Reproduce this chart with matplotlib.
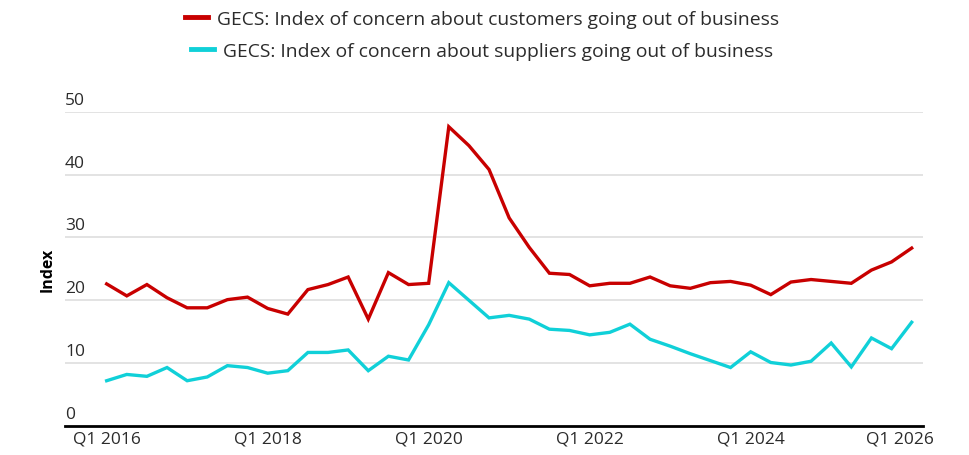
import matplotlib
matplotlib.use("Agg")
import matplotlib.pyplot as plt
import matplotlib.transforms as mtransforms
import numpy as np

plt.rcParams['font.family'] = ['Open Sans', 'DejaVu Sans']

# quarterly data Q1 2016 .. Q1 2026
quarters = [f"Q{q} {y}" for y in range(2016, 2027) for q in range(1, 5)][:41]

customers = [22.6, 20.7, 22.5, 20.4, 18.8, 18.8, 20.1, 20.5, 18.7, 17.8,
             21.7, 22.5, 23.7, 17.0, 24.4, 22.5, 22.7, 47.6, 44.6, 40.8,
             33.1, 28.4, 24.3, 24.1, 22.3, 22.7, 22.7, 23.7, 22.3, 21.9,
             22.8, 23.0, 22.4, 20.9, 22.9, 23.3, 23.0, 22.7, 24.8, 26.1,
             28.3]
suppliers = [7.2, 8.2, 7.9, 9.3, 7.2, 7.8, 9.6, 9.3, 8.4, 8.8,
             11.7, 11.7, 12.1, 8.8, 11.1, 10.5, 16.1, 22.8, 20.0, 17.2,
             17.6, 17.0, 15.4, 15.2, 14.5, 14.9, 16.2, 13.8, 12.7, 11.5,
             10.4, 9.3, 11.8, 10.1, 9.7, 10.3, 13.2, 9.4, 14.0, 12.3,
             16.5]

label_customers = "GECS: Index of concern about customers going out of business"
label_suppliers = "GECS: Index of concern about suppliers going out of business"
yticks = [0, 10, 20, 30, 40, 50]

red = '#c80000'
cyan = '#10d0d8'
txt = '#2b2b2b'

fig = plt.figure(figsize=(9.7, 4.56), dpi=100)
ax = fig.add_axes([0.067, 0.0636, 0.8845, 0.6893])

x = np.arange(len(quarters))
l1, = ax.plot(x, customers, color=red, lw=2.4, solid_joinstyle='miter')
l2, = ax.plot(x, suppliers, color=cyan, lw=2.4, solid_joinstyle='miter')

ax.set_xlim(-2.07, 40.56)
ax.set_ylim(0, 50)

# gridlines and y labels sitting above them
for v in yticks[1:]:
    ax.axhline(v, color='#e0e0e0', lw=1.3, zorder=0)
trans = mtransforms.blended_transform_factory(ax.transAxes, ax.transData)
lab_trans = trans + mtransforms.ScaledTranslation(0, 4/100, fig.dpi_scale_trans)
for v in yticks:
    ax.text(0, v, str(v), transform=lab_trans, ha='left', va='bottom',
            fontsize=12.5, color=txt)
ax.set_yticks([])

ax.set_xticks(x[::8])
ax.set_xticklabels(quarters[::8], fontsize=12.5, color=txt)
ax.tick_params(axis='x', length=0, pad=3)
# last label pulled in a little, as in the source
last = ax.get_xticklabels()[-1]
last.set_transform(last.get_transform() + mtransforms.ScaledTranslation(-12/100, 0, fig.dpi_scale_trans))

for s in ['top', 'right', 'left']:
    ax.spines[s].set_visible(False)
ax.spines['bottom'].set_color('black')
ax.spines['bottom'].set_linewidth(2)

ax.set_ylabel("Index", fontsize=11.5, fontweight='bold', color='black', labelpad=7)

# legend: two centred rows
leg1 = fig.legend([l1], [label_customers], loc='center', bbox_to_anchor=(482/970, 1 - 20/456),
                  frameon=False, fontsize=13.9, handlelength=1.2, handletextpad=0.45)
leg2 = fig.legend([l2], [label_suppliers], loc='center', bbox_to_anchor=(482/970, 1 - 52/456),
                  frameon=False, fontsize=13.9, handlelength=1.2, handletextpad=0.45)
for lg in (leg1, leg2):
    for t in lg.get_texts():
        t.set_color(txt)
    for h in lg.legend_handles:
        h.set_linewidth(3.5)

fig.savefig("out.png", dpi=100)
